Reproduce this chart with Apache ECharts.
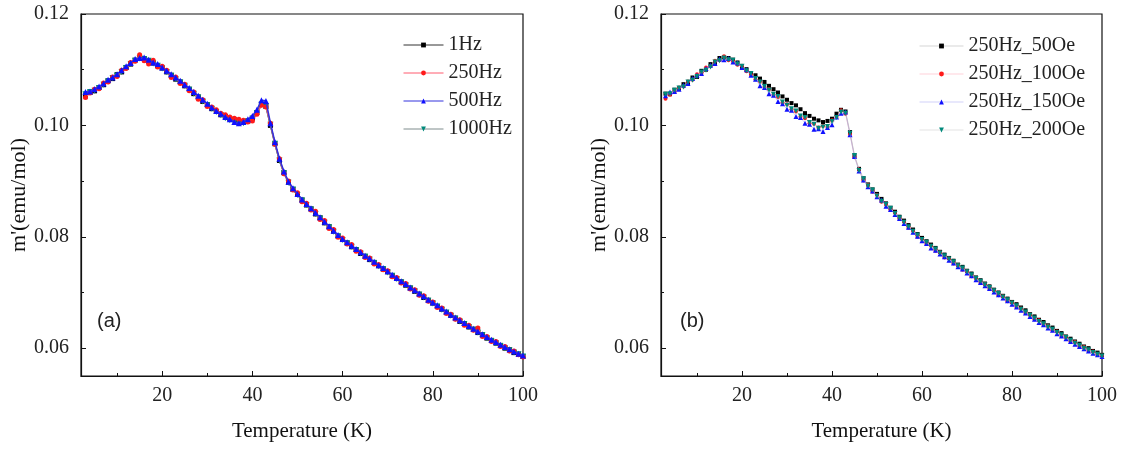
<!DOCTYPE html>
<html><head><meta charset="utf-8">
<script src="https://cdn.jsdelivr.net/npm/echarts@6/dist/echarts.min.js"></script>
<style>html,body{margin:0;padding:0;background:#fff}#c{width:1122px;height:451px}</style>
</head><body><div id="c"></div>
<script>
// Temperature (K)
const temps = [
 3,4,5,6,7,8,9,10,11,12,
 13,14,15,16,17,18,19,20,21,22,
 23,24,25,26,27,28,29,30,31,32,
 33,34,35,36,37,38,39,40,41,42,
 43,44,45,46,47,48,49,50,51,52,
 53,54,55,56,57,58,59,60,61,62,
 63,64,65,66,67,68,69,70,71,72,
 73,74,75,76,77,78,79,80,81,82,
 83,84,85,86,87,88,89,90,91,92,
 93,94,95,96,97,98,99,100];

// Panel (a): frequency dependence
const a_1Hz = [
 .1053,.1059,.1062,.1068,.1073,.1080,.1084,.1091,.1096,.1104,
 .1110,.1117,.1121,.1120,.1115,.1112,.1107,.1103,.1096,.1090,
 .1083,.1078,.1071,.1065,.1057,.1051,.1043,.1037,.1030,.1025,
 .1019,.1016,.1012,.1010,.1007,.1007,.1008,.1013,.1023,.1038,
 .1034,.1000,.0967,.0937,.0915,.0898,.0885,.0876,.0866,.0857,
 .0850,.0841,.0834,.0825,.0818,.0810,.0801,.0795,.0789,.0782,
 .0777,.0770,.0765,.0759,.0754,.0748,.0742,.0737,.0730,.0725,
 .0719,.0713,.0708,.0702,.0697,.0691,.0686,.0681,.0675,.0670,
 .0664,.0659,.0654,.0648,.0644,.0638,.0634,.0628,.0624,.0618,
 .0614,.0609,.0605,.0600,.0597,.0592,.0589,.0585];
const a_250Hz = [
 .1050,.1058,.1065,.1066,.1076,.1078,.1087,.1088,.1099,.1102,
 .1113,.1115,.1127,.1116,.1110,.1117,.1105,.1106,.1099,.1086,
 .1087,.1075,.1074,.1062,.1060,.1047,.1046,.1034,.1033,.1028,
 .1022,.1019,.1015,.1013,.1011,.1009,.1006,.1008,.1020,.1036,
 .1033,.1004,.0966,.0940,.0913,.0900,.0884,.0879,.0863,.0860,
 .0848,.0846,.0831,.0829,.0815,.0813,.0799,.0798,.0787,.0786,
 .0774,.0773,.0763,.0762,.0751,.0750,.0741,.0739,.0728,.0727,
 .0717,.0716,.0706,.0705,.0695,.0694,.0684,.0683,.0673,.0672,
 .0662,.0661,.0652,.0651,.0641,.0641,.0632,.0636,.0621,.0621,
 .0612,.0612,.0603,.0603,.0595,.0595,.0588,.0584];
const a_500Hz = [
 .1060,.1061,.1065,.1070,.1075,.1082,.1086,.1092,.1099,.1106,
 .1112,.1119,.1121,.1122,.1118,.1113,.1110,.1104,.1098,.1092,
 .1086,.1080,.1073,.1067,.1060,.1053,.1046,.1039,.1032,.1026,
 .1021,.1015,.1011,.1006,.1004,.1006,.1011,.1017,.1028,.1045,
 .1044,.1004,.0970,.0940,.0917,.0899,.0887,.0877,.0867,.0859,
 .0851,.0843,.0835,.0827,.0819,.0811,.0803,.0796,.0790,.0784,
 .0778,.0772,.0766,.0761,.0755,.0749,.0744,.0738,.0732,.0726,
 .0720,.0715,.0709,.0704,.0698,.0693,.0687,.0682,.0677,.0671,
 .0666,.0660,.0655,.0650,.0645,.0640,.0635,.0630,.0625,.0620,
 .0615,.0611,.0606,.0602,.0598,.0594,.0590,.0587];
const a_1000Hz = [
 .1056,.1060,.1062,.1067,.1073,.1079,.1085,.1089,.1096,.1103,
 .1110,.1116,.1120,.1119,.1116,.1111,.1107,.1102,.1096,.1089,
 .1083,.1077,.1071,.1064,.1057,.1050,.1043,.1036,.1030,.1024,
 .1018,.1013,.1009,.1006,.1004,.1004,.1007,.1012,.1022,.1037,
 .1035,.1001,.0967,.0937,.0914,.0897,.0885,.0875,.0865,.0857,
 .0849,.0841,.0833,.0825,.0817,.0809,.0801,.0794,.0788,.0782,
 .0776,.0770,.0764,.0759,.0753,.0747,.0742,.0736,.0730,.0724,
 .0718,.0713,.0707,.0702,.0696,.0691,.0685,.0680,.0675,.0669,
 .0664,.0658,.0653,.0648,.0643,.0638,.0633,.0628,.0623,.0618,
 .0613,.0609,.0604,.0600,.0596,.0592,.0589,.0585];

// Panel (b): field dependence at 250 Hz
const b_50Oe = [
 .1057,.1056,.1064,.1066,.1074,.1076,.1086,.1087,.1098,.1100,
 .1110,.1112,.1121,.1122,.1121,.1118,.1113,.1103,.1101,.1094,
 .1090,.1084,.1078,.1071,.1065,.1059,.1052,.1046,.1040,.1036,
 .1029,.1022,.1017,.1012,.1009,.1006,.1008,.1012,.1021,.1028,
 .1025,.0988,.0946,.0922,.0905,.0894,.0885,.0877,.0868,.0860,
 .0852,.0845,.0836,.0829,.0821,.0813,.0805,.0798,.0792,.0786,
 .0780,.0773,.0768,.0762,.0757,.0750,.0746,.0739,.0734,.0727,
 .0722,.0716,.0711,.0705,.0700,.0694,.0689,.0683,.0679,.0673,
 .0668,.0661,.0657,.0651,.0647,.0641,.0637,.0631,.0627,.0621,
 .0617,.0612,.0608,.0603,.0600,.0595,.0592,.0588];
const b_100Oe = [
 .1048,.1055,.1060,.1068,.1070,.1079,.1082,.1092,.1094,.1104,
 .1106,.1116,.1117,.1124,.1117,.1115,.1109,.1107,.1097,.1091,
 .1083,.1079,.1069,.1065,.1055,.1051,.1041,.1038,.1029,.1025,
 .1016,.1013,.1004,.1003,.0996,.0999,.0997,.1009,.1015,.1027,
 .1021,.0984,.0943,.0921,.0901,.0893,.0881,.0875,.0863,.0858,
 .0848,.0843,.0832,.0827,.0816,.0811,.0800,.0796,.0787,.0784,
 .0775,.0772,.0763,.0761,.0752,.0749,.0741,.0738,.0729,.0726,
 .0717,.0715,.0706,.0704,.0695,.0693,.0684,.0682,.0674,.0671,
 .0663,.0660,.0652,.0650,.0642,.0640,.0632,.0630,.0622,.0620,
 .0612,.0611,.0603,.0602,.0595,.0594,.0588,.0587];
const b_150Oe = [
 .1053,.1060,.1061,.1065,.1072,.1075,.1084,.1090,.1093,.1102,
 .1108,.1111,.1119,.1118,.1120,.1114,.1112,.1104,.1100,.1090,
 .1083,.1071,.1068,.1057,.1054,.1043,.1039,.1029,.1027,.1016,
 .1014,.1004,.1002,.0993,.0994,.0989,.0996,.1001,.1015,.1022,
 .1024,.0983,.0944,.0918,.0902,.0890,.0882,.0872,.0866,.0855,
 .0849,.0840,.0833,.0824,.0817,.0808,.0801,.0793,.0788,.0780,
 .0776,.0769,.0764,.0758,.0753,.0746,.0742,.0735,.0730,.0723,
 .0718,.0712,.0707,.0701,.0696,.0690,.0685,.0679,.0674,.0668,
 .0663,.0657,.0652,.0646,.0642,.0636,.0632,.0626,.0622,.0617,
 .0612,.0607,.0603,.0599,.0595,.0591,.0588,.0585];
const b_200Oe = [
 .1056,.1057,.1063,.1067,.1069,.1078,.1081,.1088,.1096,.1099,
 .1105,.1114,.1116,.1121,.1118,.1117,.1110,.1106,.1098,.1093,
 .1084,.1078,.1070,.1063,.1056,.1052,.1042,.1036,.1030,.1026,
 .1017,.1014,.1005,.1002,.0995,.0997,.0998,.1007,.1014,.1024,
 .1022,.0986,.0946,.0919,.0904,.0891,.0884,.0873,.0864,.0858,
 .0851,.0842,.0834,.0826,.0818,.0810,.0803,.0795,.0790,.0783,
 .0778,.0771,.0766,.0760,.0755,.0748,.0744,.0737,.0732,.0725,
 .0720,.0714,.0709,.0703,.0698,.0692,.0687,.0681,.0676,.0670,
 .0665,.0659,.0654,.0648,.0644,.0638,.0634,.0628,.0624,.0619,
 .0614,.0609,.0605,.0600,.0597,.0592,.0589,.0586];

const xMajor = [20,40,60,80,100];
const xMinor = [10,30,50,70,90];
const yMajor = [0.06,0.08,0.10,0.12];
const yMinor = [0.07,0.09,0.11];
const legendA = ['1Hz','250Hz','500Hz','1000Hz'];
const legendB = ['250Hz_50Oe','250Hz_100Oe','250Hz_150Oe','250Hz_200Oe'];

const SERIF = '"Liberation Serif","Times New Roman",serif';
const pair = arr => temps.map((t,i)=>[t,arr[i]]);

function xAxes(g){
  return [{
    type:'value', gridIndex:g, min:2, max:100, position:'bottom',
    axisLine:{show:true, lineStyle:{color:'#111', width:1.2}},
    axisTick:{show:true, inside:true, length:5, customValues:xMajor, lineStyle:{color:'#111'}},
    axisLabel:{customValues:xMajor, fontFamily:SERIF, fontSize:20, color:'#222', margin:10},
    splitLine:{show:false},
    name:'Temperature (K)', nameLocation:'middle', nameGap:45,
    nameTextStyle:{fontFamily:SERIF, fontSize:21, color:'#111'}
  },{
    type:'value', gridIndex:g, min:2, max:100, position:'bottom',
    axisLine:{show:false},
    axisTick:{show:true, inside:true, length:3, customValues:xMinor, lineStyle:{color:'#111'}},
    axisLabel:{show:false}, splitLine:{show:false}
  }];
}
function yAxes(g){
  return [{
    type:'value', gridIndex:g, min:0.055, max:0.12, position:'left',
    axisLine:{show:true, lineStyle:{color:'#111', width:1.2}},
    axisTick:{show:true, inside:true, length:5, customValues:yMajor, lineStyle:{color:'#111'}},
    axisLabel:{customValues:yMajor, formatter:v=>v.toFixed(2), fontFamily:SERIF, fontSize:20, color:'#222', margin:12},
    splitLine:{show:false},
    name:"m'(emu/mol)", nameLocation:'middle', nameGap:49, nameRotate:90,
    nameTextStyle:{fontFamily:SERIF, fontSize:22, color:'#111'}
  },{
    type:'value', gridIndex:g, min:0.055, max:0.12, position:'left',
    axisLine:{show:false},
    axisTick:{show:true, inside:true, length:3, customValues:yMinor, lineStyle:{color:'#111'}},
    axisLabel:{show:false}, splitLine:{show:false}
  }];
}

function mk(name, data, g, color, lineColor, symbol, rot, size, lw, lop, z){
  return {
    name, type:'line', xAxisIndex:g*2, yAxisIndex:g*2, data:pair(data),
    symbol, symbolRotate:rot, symbolSize:size, showSymbol:true,
    itemStyle:{color}, lineStyle:{color:lineColor, width:lw, opacity:lop},
    z, animation:false
  };
}

const chart = echarts.init(document.getElementById('c'), null, {renderer:'canvas'});
chart.setOption({
  animation:false,
  backgroundColor:'#fff',
  grid:[
    {left:81, top:14, width:442, height:362, show:true, borderColor:'#111', borderWidth:1.2, backgroundColor:'transparent'},
    {left:661, top:14, width:441, height:362, show:true, borderColor:'#111', borderWidth:1.2, backgroundColor:'transparent'}
  ],
  xAxis:[...xAxes(0), ...xAxes(1)],
  yAxis:[...yAxes(0), ...yAxes(1)],
  legend:[
    {data:legendA, orient:'vertical', left:398, top:30, itemWidth:40, itemHeight:6, itemGap:8,
     lineStyle:{width:1}, textStyle:{fontFamily:SERIF, fontSize:20, color:'#222'}},
    {data:legendB, orient:'vertical', left:914, top:31, itemWidth:44, itemHeight:6, itemGap:8,
     lineStyle:{width:1}, textStyle:{fontFamily:SERIF, fontSize:20, color:'#222'}}
  ],
  series:[
    mk('1Hz', a_1Hz, 0, '#000000', '#333333', 'rect', 0, 5, 1.5, 1, 2),
    mk('1000Hz', a_1000Hz, 0, '#00897b', '#7f8c8d', 'triangle', 180, 6, 1.5, 1, 3),
    mk('250Hz', a_250Hz, 0, '#ff1a1a', '#ff5a6e', 'circle', 0, 5, 1.2, 1, 4),
    mk('500Hz', a_500Hz, 0, '#1010ff', '#3333dd', 'triangle', 0, 6, 1.6, 1, 5),
    mk('250Hz_50Oe', b_50Oe, 1, '#000000', '#999999', 'rect', 0, 4, 1, 0.4, 2),
    mk('250Hz_100Oe', b_100Oe, 1, '#ff1a1a', '#ff8fa0', 'circle', 0, 4, 1, 0.4, 3),
    mk('250Hz_150Oe', b_150Oe, 1, '#1010ff', '#8c8cf0', 'triangle', 0, 5, 1, 0.4, 4),
    mk('250Hz_200Oe', b_200Oe, 1, '#00897b', '#bbbbbb', 'triangle', 180, 5, 1, 0.4, 5)
  ],
  graphic:[
    {type:'text', left:97, top:311, style:{text:'(a)', font:'20px "Liberation Sans", Arial, sans-serif', fill:'#222'}},
    {type:'text', left:680, top:311, style:{text:'(b)', font:'20px "Liberation Sans", Arial, sans-serif', fill:'#222'}}
  ]
});
</script>
</body></html>
